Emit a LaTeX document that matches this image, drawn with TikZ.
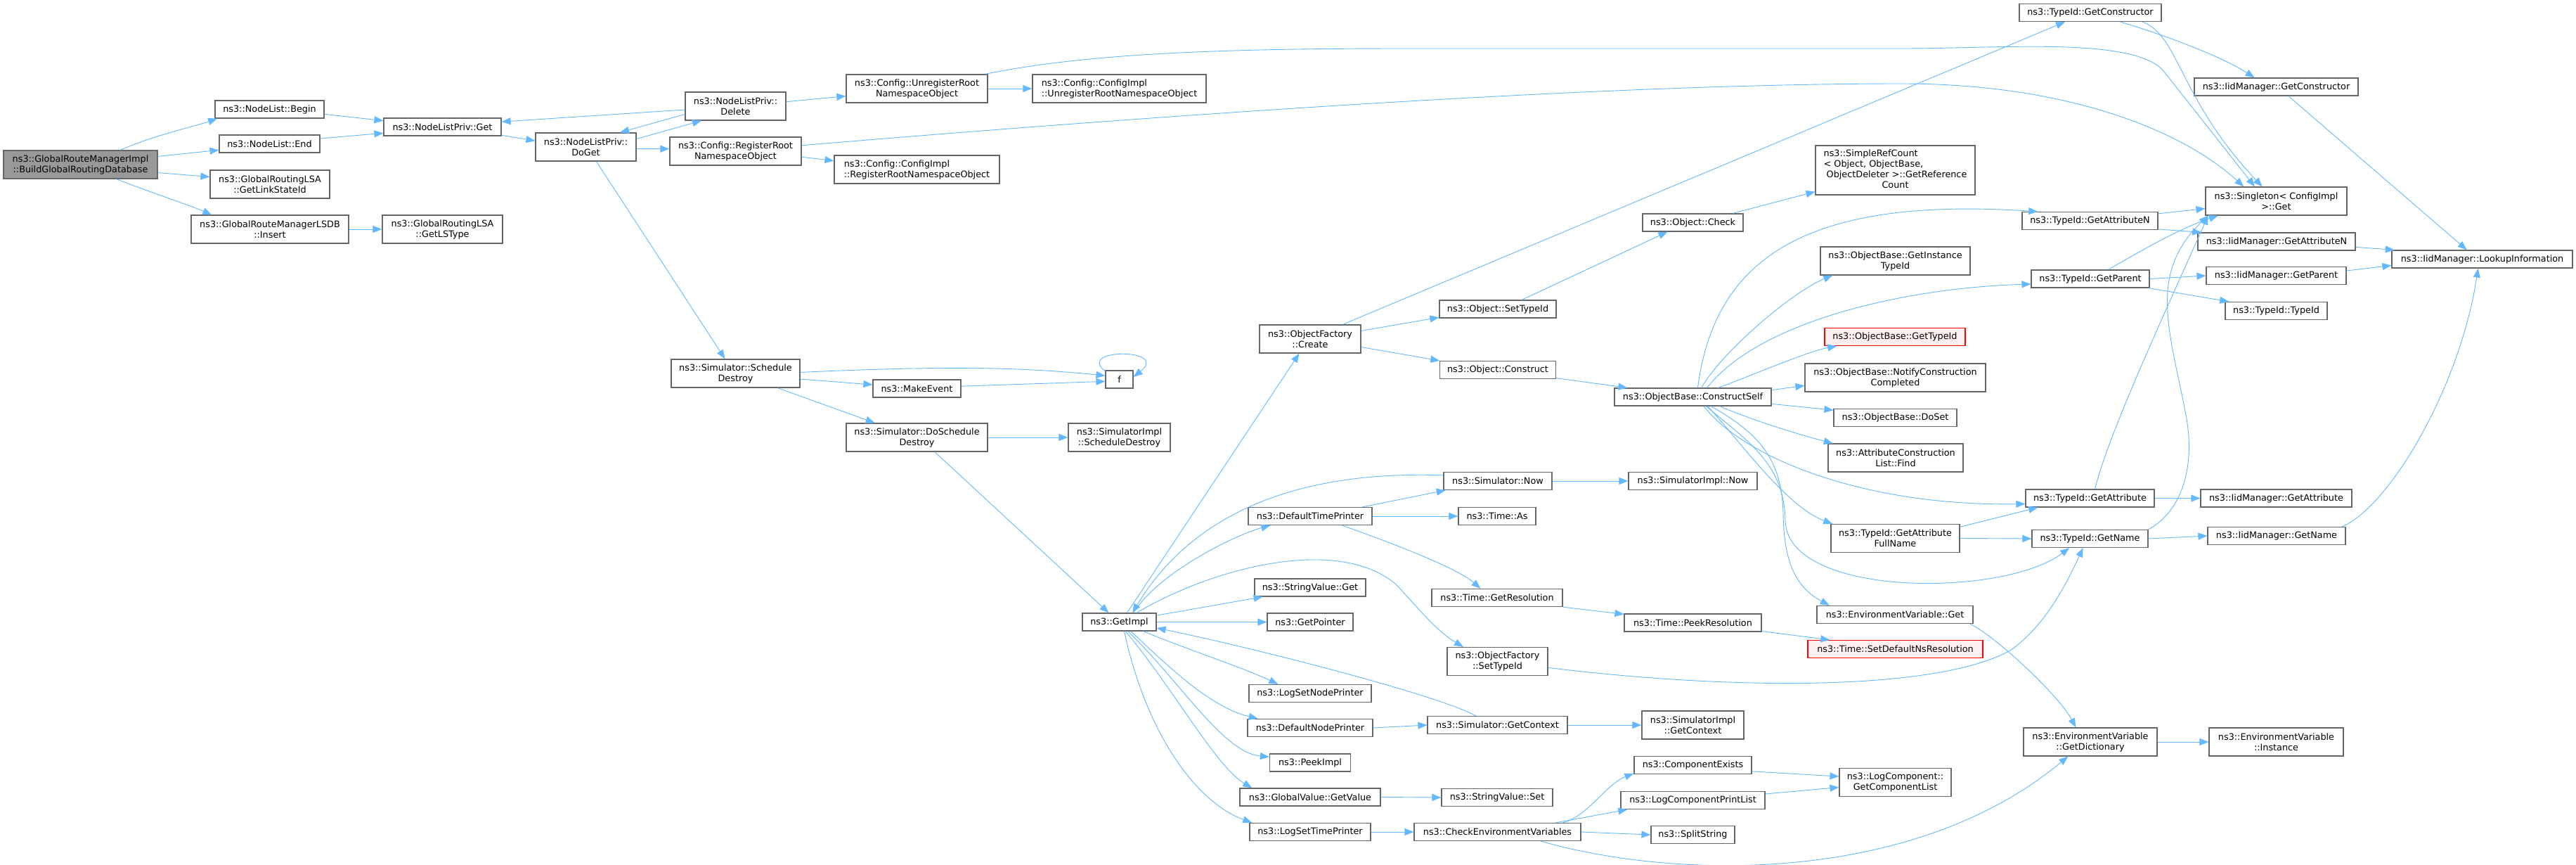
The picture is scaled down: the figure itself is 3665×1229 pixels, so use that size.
\documentclass[tikz,border=0pt]{standalone}
\usepackage{fontspec}
\setmainfont{DejaVu Sans}
\usetikzlibrary{arrows.meta}
\usepackage{xcolor}
\definecolor{edgeblue}{HTML}{63B8FF}
\definecolor{boxgray}{HTML}{666666}
\definecolor{maingray}{HTML}{999999}
\definecolor{warnred}{HTML}{FF0000}
\definecolor{warnfill}{HTML}{FFF0F0}

\begin{document}
\begin{tikzpicture}[
        x=1pt, y=-1pt,
        %Environment config
        font=\fontsize{12.8}{15}\selectfont,
        %Environment styles
        FuncCfg/.style={
            draw=boxgray,
            fill=white,
            line width=1.2pt,
            minimum height=25pt,
            inner xsep=2pt,
            inner ysep=0pt,
            align=center
        },
        TwoCfg/.style={minimum height=40pt},
        WideCfg/.style={minimum width=#1pt},
        RedCfg/.style={draw=warnred, fill=warnfill},
        CallCfg/.style={
            draw=edgeblue,
            line width=0.9pt,
            -{Triangle[length=13pt,width=10pt]}
        }
    ]
    \useasboundingbox (0,0) rectangle (3665,1229);

    %Callers side
    \path
        (114.5,234) node[FuncCfg,TwoCfg,WideCfg=219,fill=maingray](BUILD){ns3::GlobalRouteManagerImpl\\::BuildGlobalRoutingDatabase}
        (383.5,155.5) node[FuncCfg,WideCfg=155](NLB){ns3::NodeList::Begin}
        (383.5,204.5) node[FuncCfg,WideCfg=143](NLE){ns3::NodeList::End}
        (384,262) node[FuncCfg,TwoCfg,WideCfg=170](LSID){ns3::GlobalRoutingLSA\\::GetLinkStateId}
        (384,326) node[FuncCfg,TwoCfg,WideCfg=224](LSDB){ns3::GlobalRouteManagerLSDB\\::Insert}
        (629.5,180.5) node[FuncCfg,WideCfg=167](NPG){ns3::NodeListPriv::Get}
        (629.5,326) node[FuncCfg,TwoCfg,WideCfg=171](LST){ns3::GlobalRoutingLSA\\::GetLSType}
        (833.5,209) node[FuncCfg,TwoCfg,WideCfg=143](DOGET){ns3::NodeListPriv::\\DoGet}
        (1046.5,151) node[FuncCfg,TwoCfg,WideCfg=143](DEL){ns3::NodeListPriv::\\Delete}
        (1046.5,215) node[FuncCfg,TwoCfg,WideCfg=187](REG){ns3::Config::RegisterRoot\\NamespaceObject}
        (1046.5,531) node[FuncCfg,TwoCfg,WideCfg=183](SCHD){ns3::Simulator::Schedule\\Destroy}
        (1304.5,126) node[FuncCfg,TwoCfg,WideCfg=201](UNREG){ns3::Config::UnregisterRoot\\NamespaceObject}
        (1304.5,241) node[FuncCfg,TwoCfg,WideCfg=235,align=left](CREG){ns3::Config::ConfigImpl\\::RegisterRootNamespaceObject}
        (1304.5,552.5) node[FuncCfg,WideCfg=125](MKEV){ns3::MakeEvent}
        (1304.5,622) node[FuncCfg,TwoCfg,WideCfg=201](DOSCH){ns3::Simulator::DoSchedule\\Destroy}
        (1592.5,126) node[FuncCfg,TwoCfg,WideCfg=247,align=left](CUNREG){ns3::Config::ConfigImpl\\::UnregisterRootNamespaceObject}
        (1592.5,539.5) node[FuncCfg,WideCfg=39](F){f}
        (1592.5,622) node[FuncCfg,TwoCfg,WideCfg=145](SISD){ns3::SimulatorImpl\\::ScheduleDestroy}
        (1592.5,884.5) node[FuncCfg,WideCfg=105](GIMPL){ns3::GetImpl};

    %GetImpl fan
    \path
        (1864,482) node[FuncCfg,TwoCfg,WideCfg=144](OFC){ns3::ObjectFactory\\::Create}
        (1864,734) node[FuncCfg,WideCfg=176](DTP){ns3::DefaultTimePrinter}
        (1864,835.5) node[FuncCfg,WideCfg=158](SVG){ns3::StringValue::Get}
        (1864,884.5) node[FuncCfg,WideCfg=122](GPTR){ns3::GetPointer}
        (1864,986) node[FuncCfg,WideCfg=174](LSNP){ns3::LogSetNodePrinter}
        (1864,1035) node[FuncCfg,WideCfg=178](DNP){ns3::DefaultNodePrinter}
        (1864,1084.5) node[FuncCfg,WideCfg=115](PEEK){ns3::PeekImpl}
        (1864,1133.5) node[FuncCfg,WideCfg=200](GVGV){ns3::GlobalValue::GetValue}
        (1864,1183) node[FuncCfg,WideCfg=172](LSTP){ns3::LogSetTimePrinter}
        (2131,439.5) node[FuncCfg,WideCfg=166](OSTI){ns3::Object::SetTypeId}
        (2131,526) node[FuncCfg,WideCfg=165](OCON){ns3::Object::Construct}
        (2131,684) node[FuncCfg,WideCfg=154](SNOW){ns3::Simulator::Now}
        (2130,734) node[FuncCfg,WideCfg=110](TAS){ns3::Time::As}
        (2130,850) node[FuncCfg,WideCfg=186](TGR){ns3::Time::GetResolution}
        (2130.5,940.5) node[FuncCfg,TwoCfg,WideCfg=143](OFST){ns3::ObjectFactory\\::SetTypeId}
        (2130.5,1031) node[FuncCfg,WideCfg=199](SGC){ns3::Simulator::GetContext}
        (2130,1134) node[FuncCfg,WideCfg=158](SVS){ns3::StringValue::Set}
        (2130.5,1183) node[FuncCfg,WideCfg=237](CEV){ns3::CheckEnvironmentVariables}
        (2408.5,316.5) node[FuncCfg,WideCfg=143](OCHK){ns3::Object::Check}
        (2408.5,564.5) node[FuncCfg,WideCfg=223](OBCS){ns3::ObjectBase::ConstructSelf}
        (2408.5,684) node[FuncCfg,WideCfg=183](SINOW){ns3::SimulatorImpl::Now}
        (2408.5,885.5) node[FuncCfg,WideCfg=195](TPR){ns3::Time::PeekResolution}
        (2408.5,1031) node[FuncCfg,TwoCfg,WideCfg=145](SIGC){ns3::SimulatorImpl\\::GetContext}
        (2408.5,1088) node[FuncCfg,WideCfg=167](CEX){ns3::ComponentExists}
        (2408.5,1138) node[FuncCfg,WideCfg=205](LCPL){ns3::LogComponentPrintList}
        (2408.5,1187) node[FuncCfg,WideCfg=119](SPL){ns3::SplitString};

    %Callees side
    \path
        (2696.5,242) node[FuncCfg,WideCfg=227,minimum height=70pt](SRC){\begin{tabular}{@{}l@{}}ns3::SimpleRefCount\\< Object, ObjectBase,\\\ ObjectDeleter >::GetReference\\\multicolumn{1}{@{}c@{}}{Count}\end{tabular}}
        (2696.5,371) node[FuncCfg,TwoCfg,WideCfg=213](OBGIT){ns3::ObjectBase::GetInstance\\TypeId}
        (2696,479) node[FuncCfg,RedCfg,WideCfg=200](OBGT){ns3::ObjectBase::GetTypeId}
        (2696.5,537) node[FuncCfg,TwoCfg,WideCfg=257](OBNC){ns3::ObjectBase::NotifyConstruction\\Completed}
        (2696.5,594) node[FuncCfg,WideCfg=175](OBDS){ns3::ObjectBase::DoSet}
        (2697,651) node[FuncCfg,TwoCfg,WideCfg=192](ACLF){ns3::AttributeConstruction\\List::Find}
        (2696.5,765.5) node[FuncCfg,TwoCfg,WideCfg=183](TGAF){ns3::TypeId::GetAttribute\\FullName}
        (2696,874) node[FuncCfg,WideCfg=222](EVG){ns3::EnvironmentVariable::Get}
        (2696.5,923) node[FuncCfg,RedCfg,WideCfg=249](TSDR){ns3::Time::SetDefaultNsResolution}
        (2696.5,1112.5) node[FuncCfg,TwoCfg,WideCfg=159](LCGL){ns3::LogComponent::\\GetComponentList}
        (2974,18) node[FuncCfg,WideCfg=202](TGC){ns3::TypeId::GetConstructor}
        (2973.5,314) node[FuncCfg,WideCfg=193](TGAN){ns3::TypeId::GetAttributeN}
        (2974,396.5) node[FuncCfg,WideCfg=168](TGP){ns3::TypeId::GetParent}
        (2973.5,708.5) node[FuncCfg,WideCfg=183](TGA){ns3::TypeId::GetAttribute}
        (2973.5,766) node[FuncCfg,WideCfg=165](TGN){ns3::TypeId::GetName}
        (2974,1055) node[FuncCfg,TwoCfg,WideCfg=190](EVGD){ns3::EnvironmentVariable\\::GetDictionary}
        (3238.5,123.5) node[FuncCfg,WideCfg=233](IMGC){ns3::IidManager::GetConstructor}
        (3238.5,286) node[FuncCfg,TwoCfg,WideCfg=201](SGET){ns3::Singleton< ConfigImpl\\>::Get}
        (3239,343.5) node[FuncCfg,WideCfg=224](IMGAN){ns3::IidManager::GetAttributeN}
        (3238.5,392) node[FuncCfg,WideCfg=199](IMGP){ns3::IidManager::GetParent}
        (3238.5,442) node[FuncCfg,WideCfg=145](TTID){ns3::TypeId::TypeId}
        (3238.5,708.5) node[FuncCfg,WideCfg=215](IMGA){ns3::IidManager::GetAttribute}
        (3239,762) node[FuncCfg,WideCfg=196](IMGN){ns3::IidManager::GetName}
        (3238.5,1055) node[FuncCfg,TwoCfg,WideCfg=191](EVI){ns3::EnvironmentVariable\\::Instance}
        (3531.5,368.5) node[FuncCfg,WideCfg=257](IMLI){ns3::IidManager::LookupInformation};

    %Calls from the database builder
    \draw[CallCfg] (BUILD.20) .. controls (220,192) and (276,180) .. (NLB.190);
    \draw[CallCfg] (BUILD.6) -- (NLE.187);
    \draw[CallCfg] (BUILD.-6) -- (LSID.173);
    \draw[CallCfg] (BUILD.-22) .. controls (210,272) and (270,292) .. (LSDB.166);
    \draw[CallCfg] (NLB.-5.5) -- (NPG.174);
    \draw[CallCfg] (NLE.6) -- (NPG.186);
    \draw[CallCfg] (LSDB.east) -- (LST.west);
    \draw[CallCfg] (NPG.-8.5) -- (DOGET.173);
    \draw[CallCfg] (DEL.184) -- (NPG.5);
    \draw[CallCfg] (DEL.189) -- (DOGET.23);
    \draw[CallCfg] (DOGET.9) -- (DEL.203);
    \draw[CallCfg] (DOGET.-2) -- (REG.178);
    \draw[CallCfg] (DOGET.-54) -- (SCHD.126);
    \draw[CallCfg] (DEL.5.6) -- (UNREG.186);
    \draw[CallCfg] (REG.-5.5) -- (CREG.174);
    \draw[CallCfg] (UNREG.east) -- (CUNREG.west);
    \draw[CallCfg] (REG.5) .. controls (1700,160) and (2300,119) .. (2705,119)
        .. controls (2950,119) and (3110,190) .. (SGET.156);
    \draw[CallCfg] (UNREG.12) .. controls (1550,75) and (1750,69) .. (2000,69) -- (2705,69)
        .. controls (2850,69) and (3039,52) .. (3079,102) -- (SGET.146);

    %Schedule destroy
    \draw[CallCfg] (SCHD.1) .. controls (1350,520) and (1450,522) .. (F.165);
    \draw[CallCfg] (SCHD.-5) -- (MKEV.175);
    \draw[CallCfg] (MKEV.3) -- (F.188);
    \draw[CallCfg] (SCHD.-19) -- (DOSCH.161);
    \draw[CallCfg] (F.150) .. controls (1530,495) and (1665,495) .. (F.10);
    \draw[CallCfg] (DOSCH.east) -- (SISD.west);
    \draw[CallCfg] (DOSCH.-39) -- (GIMPL.139);

    %GetImpl
    \draw[CallCfg] (GIMPL.50) -- (OFC.233);
    \draw[CallCfg] (SNOW.174) .. controls (1830,668) and (1690,740) .. (GIMPL.35.5);
    \draw[CallCfg] (GIMPL.33) .. controls (1650,812) and (1760,760) .. (DTP.193);
    \draw[CallCfg] (GIMPL.28) .. controls (1720,810) and (1900,760) .. (1985,830)
        .. controls (2010,855) and (2040,895) .. (OFST.157.5);
    \draw[CallCfg] (GIMPL.10) -- (SVG.191);
    \draw[CallCfg] (GIMPL.east) -- (GPTR.west);
    \draw[CallCfg] (SGC.157) .. controls (2050,990) and (1800,925) .. (GIMPL.-9);
    \draw[CallCfg] (GIMPL.-21) .. controls (1680,920) and (1770,950) .. (LSNP.164);
    \draw[CallCfg] (GIMPL.-39) .. controls (1660,945) and (1720,1005) .. (DNP.170);
    \draw[CallCfg] (GIMPL.-47) .. controls (1680,970) and (1740,1070) .. (PEEK.172);
    \draw[CallCfg] (GIMPL.-56) .. controls (1670,980) and (1730,1090) .. (GVGV.171);
    \draw[CallCfg] (GIMPL.-62) .. controls (1630,1040) and (1700,1140) .. (LSTP.171);

    %Object factory and construction
    \draw[CallCfg] (OFC.9.5) -- (OSTI.188.6);
    \draw[CallCfg] (OFC.-9.5) -- (OCON.171);
    \draw[CallCfg] (OFC.24) -- (TGC.200);
    \draw[CallCfg] (OSTI.21.3) -- (OCHK.200);
    \draw[CallCfg] (OCHK.13.4) -- (SRC.195.3);
    \draw[CallCfg] (OCON.-8.3) -- (OBCS.172.2);
    \draw[CallCfg] (OBCS.47) .. controls (2450,500) and (2550,415) .. (OBGIT.193);
    \draw[CallCfg] (OBCS.62) .. controls (2440,360) and (2580,280) .. (TGAN.170);
    \draw[CallCfg] (OBCS.20.5) .. controls (2490,535) and (2570,500) .. (OBGT.189);
    \draw[CallCfg] (OBCS.33) .. controls (2500,460) and (2700,410) .. (TGP.185);
    \draw[CallCfg] (OBCS.5.9) -- (OBNC.185.3);
    \draw[CallCfg] (OBCS.-5.9) -- (OBDS.173.5);
    \draw[CallCfg] (OBCS.-19.4) .. controls (2500,600) and (2560,618) .. (ACLF.167.5);
    \draw[CallCfg] (OBCS.-40.8) .. controls (2480,650) and (2650,720) .. (TGA.185.9);
    \draw[CallCfg] (OBCS.-32.7) .. controls (2470,620) and (2540,720) .. (TGAF.167);
    \draw[CallCfg] (OBCS.-35) .. controls (2490,630) and (2538,660) .. (2540,740)
        .. controls (2542,850) and (2850,850) .. (TGN.204);
    \draw[CallCfg] (OBCS.-27) .. controls (2500,615) and (2535,650) .. (2537,730)
        .. controls (2538,800) and (2555,835) .. (EVG.172.7);
    \draw[CallCfg] (TGAF.10.8) -- (TGA.190.6);
    \draw[CallCfg] (TGAF.east) -- (TGN.west);
    \draw[CallCfg] (EVG.-7) .. controls (2840,905) and (2930,990) .. (EVGD.135);
    \draw[CallCfg] (OFST.-7.6) .. controls (2450,980) and (2750,985) .. (2860,925)
        .. controls (2910,890) and (2940,830) .. (TGN.233.8);
    \draw[CallCfg] (CEV.-12.3) .. controls (2380,1250) and (2720,1260) .. (EVGD.213.7);
    \draw[CallCfg] (EVGD.east) -- (EVI.west);

    %Printers, time and logging
    \draw[CallCfg] (CEV.8.5) .. controls (2260,1160) and (2285,1115) .. (CEX.188.5);
    \draw[CallCfg] (CEV.9) -- (LCPL.188.9);
    \draw[CallCfg] (CEV.east) -- (SPL.west);
    \draw[CallCfg] (CEX.-6.2) -- (LCGL.174.6);
    \draw[CallCfg] (LCPL.5) -- (LCGL.185.4);
    \draw[CallCfg] (TGR.-8) -- (TPR.173.3);
    \draw[CallCfg] (TPR.-7.3) -- (TSDR.172.6);
    \draw[CallCfg] (SNOW.east) -- (SINOW.west);
    \draw[CallCfg] (SGC.east) -- (SIGC.west);
    \draw[CallCfg] (DTP.10.5) -- (SNOW.190.4);
    \draw[CallCfg] (DTP.east) -- (TAS.west);
    \draw[CallCfg] (DTP.-16) .. controls (1960,765) and (2070,805) .. (TGR.151.6);
    \draw[CallCfg] (GVGV.east) -- (SVS.west);
    \draw[CallCfg] (LSTP.east) -- (CEV.west);
    \draw[CallCfg] (DNP.east) -- (SGC.west);

    %TypeId and IidManager
    \draw[CallCfg] (TGC.-17.2) .. controls (3080,50) and (3160,80) .. (IMGC.157.1);
    \draw[CallCfg] (TGC.-10.8) .. controls (3100,50) and (3100,140) .. (SGET.134.3);
    \draw[CallCfg] (IMGC.-37) -- (IMLI.149.8);
    \draw[CallCfg] (TGAN.6.5) -- (SGET.186.3);
    \draw[CallCfg] (TGAN.-7) -- (IMGAN.173.6);
    \draw[CallCfg] (IMGAN.-4.8) -- (IMLI.174.9);
    \draw[CallCfg] (IMGP.4.6) -- (IMLI.184.2);
    \draw[CallCfg] (IMGN.8.3) .. controls (3400,720) and (3500,550) .. (IMLI.246.25);
    \draw[CallCfg] (TGP.27.5) .. controls (3040,360) and (3100,325) .. (SGET.194);
    \draw[CallCfg] (TGP.east) -- (IMGP.west);
    \draw[CallCfg] (TGP.-9.3) -- (TTID.169.8);
    \draw[CallCfg] (TGA.62.5) .. controls (3000,616) and (3084,436) .. (SGET.192);
    \draw[CallCfg] (TGN.9.6) .. controls (3100,730) and (3125,670) .. (3110,590)
        .. controls (3087,470) and (3055,390) .. (SGET.192.8);
    \draw[CallCfg] (TGA.east) -- (IMGA.west);
    \draw[CallCfg] (TGN.east) -- (IMGN.west);
\end{tikzpicture}
\end{document}
